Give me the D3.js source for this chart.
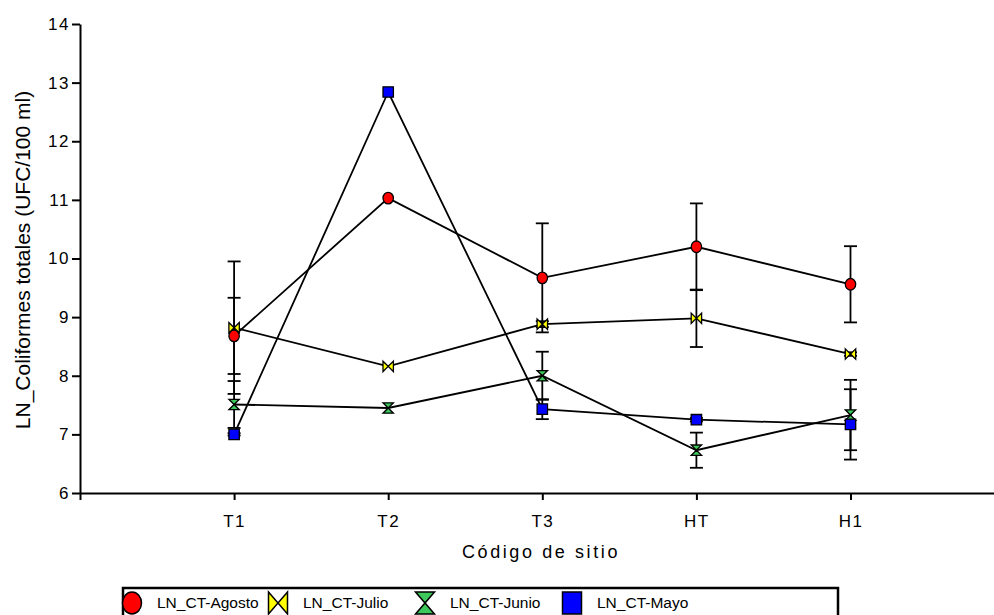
<!DOCTYPE html>
<html><head><meta charset="utf-8">
<script src="https://cdn.jsdelivr.net/npm/d3@7"></script>
<style>
body{margin:0;background:#fff;}
text{font-family:"Liberation Sans",Arial,sans-serif;}
</style></head>
<body><svg id="c" width="994" height="615"></svg>
<script>
const categories = ["T1","T2","T3","HT","H1"];
const seriesNames = ["LN_CT-Agosto","LN_CT-Julio","LN_CT-Junio","LN_CT-Mayo"];
const agosto = [8.68, 11.03, 9.67, 10.20, 9.56];
const agostoErr = [0.65, 0, 0.93, 0.74, 0.65];
const julio = [8.82, 8.16, 8.88, 8.98, 8.37];
const julioErr = [1.13, 0, 0.05, 0.49, 0.03];
const junio = [7.51, 7.45, 8.00, 6.73, 7.33];
const junioErr = [0.40, 0, 0.41, 0.30, 0.60];
const mayo = [7.00, 12.84, 7.43, 7.25, 7.17];
const mayoErr = [0.02, 0, 0.17, 0.03, 0.60];
const yTicks = [6,7,8,9,10,11,12,13,14];
const fills = ["#ff0000","#ffff00","#3cc85a","#0000ff"];
const shapes = ["circle","bowtie","hourglass","square"];

const series = seriesNames.map((n,i)=>({name:n, vals:[agosto,julio,junio,mayo][i], errs:[agostoErr,julioErr,junioErr,mayoErr][i], fill:fills[i], shape:shapes[i]}));

const svg = d3.select("#c");
const x = d3.scaleLinear().domain([0,6]).range([80,1004.6]);
const y = d3.scaleLinear().domain([6,14]).range([493,24]);

function shapePath(shape, s, sy){
  sy = sy || s;
  if(shape==="circle") return `M${-s},0A${s},${sy} 0 1,0 ${s},0A${s},${sy} 0 1,0 ${-s},0Z`;
  if(shape==="square") return `M${-s},${-sy}H${s}V${sy}H${-s}Z`;
  if(shape==="bowtie") return `M${-s},${-sy}L0,0L${-s},${sy}Z M${s},${-sy}L0,0L${s},${sy}Z`;
  return `M${-s},${-sy}L${s},${-sy}L0,0Z M${-s},${sy}L${s},${sy}L0,0Z`;
}

// axes
const yAxis = svg.append("g").attr("transform","translate(80,0)")
  .call(d3.axisLeft(y).tickValues(yTicks).tickSize(8).tickSizeOuter(0).tickPadding(2));
const xAxis = svg.append("g").attr("transform","translate(0,493)")
  .call(d3.axisBottom(x).tickValues([0,1,2,3,4,5]).tickFormat(d=>d===0?"":categories[d-1]).tickSize(7).tickSizeOuter(0).tickPadding(15));
[yAxis,xAxis].forEach(g=>{
  g.selectAll("path,line").attr("stroke","#000").attr("stroke-width",2);
  g.selectAll("text").attr("font-size",17).attr("letter-spacing","1.5").attr("fill","#000").attr("font-family","'Liberation Sans',Arial,sans-serif");
});

svg.append("text").attr("transform","translate(30,260) rotate(-90)").attr("text-anchor","middle")
  .attr("font-size",21).text("LN_Coliformes totales (UFC/100 ml)");
svg.append("text").attr("x",541).attr("y",558).attr("text-anchor","middle")
  .attr("font-size",18).attr("letter-spacing","2.6").text("Código de sitio");

const line = d3.line().x((d,i)=>x(i+1)).y(d=>y(d));
const plot = svg.append("g");
// error bars
series.forEach(s=>{
  s.vals.forEach((v,i)=>{
    const e = s.errs[i]; if(!e) return;
    const cx = x(i+1);
    plot.append("line").attr("x1",cx).attr("x2",cx).attr("y1",y(v-e)).attr("y2",y(v+e)).attr("stroke","#000").attr("stroke-width",1.8);
    [v-e,v+e].forEach(t=>plot.append("line").attr("x1",cx-6.5).attr("x2",cx+6.5).attr("y1",y(t)).attr("y2",y(t)).attr("stroke","#000").attr("stroke-width",1.8));
  });
});
// lines
series.forEach(s=>{
  plot.append("path").attr("d",line(s.vals)).attr("fill","none").attr("stroke","#000").attr("stroke-width",1.8);
});
// markers
series.forEach(s=>{
  s.vals.forEach((v,i)=>{
    plot.append("path").attr("d",shapePath(s.shape, 5.2, s.shape==="circle"?5.8:5.2))
      .attr("transform",`translate(${x(i+1)},${y(v)})`)
      .attr("fill",s.fill).attr("stroke","#000").attr("stroke-width",1.3);
  });
});

// legend
const lg = svg.append("g");
lg.append("rect").attr("x",123).attr("y",588).attr("width",715).attr("height",30)
  .attr("fill","#fff").attr("stroke","#000").attr("stroke-width",2.5);
const legX = [132,278,425,572];
series.forEach((s,i)=>{
  lg.append("path").attr("d",shapePath(s.shape, 9.5, 11)).attr("transform",`translate(${legX[i]},${603})`)
    .attr("fill",s.fill).attr("stroke","#000").attr("stroke-width",1.5);
  lg.append("text").attr("x",legX[i]+25).attr("y",608).attr("font-size",15.5).text(s.name);
});
</script></body></html>
